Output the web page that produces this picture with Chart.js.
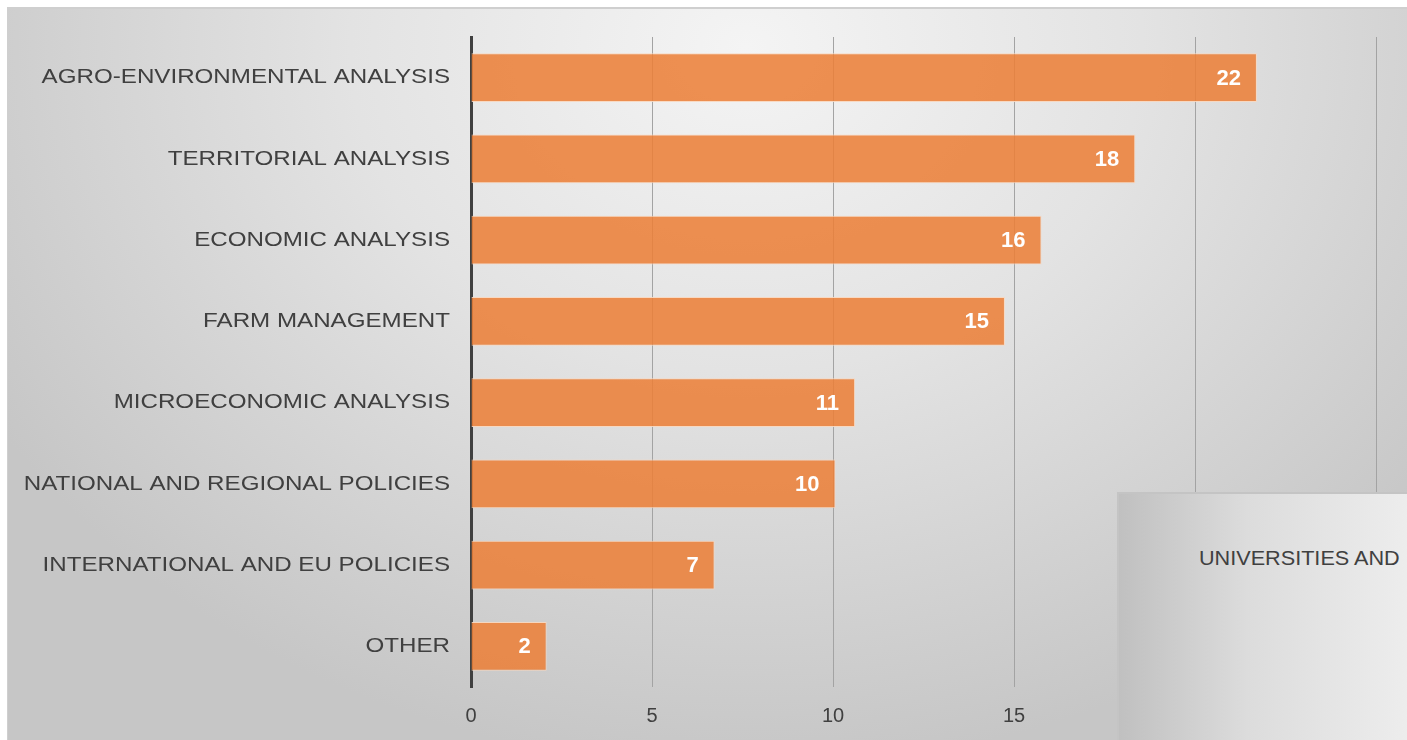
<!DOCTYPE html>
<html>
<head>
<meta charset="utf-8">
<script src="https://cdn.jsdelivr.net/npm/chart.js@4"></script>
<style>
  html, body { margin: 0; padding: 0; background: #ffffff; width: 1407px; height: 740px; overflow: hidden; }
  #frame {
    position: absolute; left: 7px; top: 7px; width: 1420px; height: 760px;
    border-top: 2px solid #cfcfcf; border-left: 1px solid #cfcfcf;
    background: radial-gradient(ellipse 62% 95% at 52% 5%, #f4f4f4 0%, #e3e3e3 45%, #c6c6c6 100%);
  }
  #wrap { position: absolute; left: 0; top: 0; width: 1399px; height: 731px; }
  #box {
    position: absolute; left: 1117px; top: 492px; width: 320px; height: 280px;
    border-top: 2px solid #c4c4c4; border-left: 2px solid #c4c4c4;
    background: linear-gradient(to right, #c0c0c0 0%, #dcdcdc 40%, #f0f0f0 100%);
    font-family: "Liberation Sans", Arial, sans-serif; font-size: 21px; color: #404040;
    white-space: nowrap; overflow: hidden;
  }
  #box span { position: absolute; left: 80px; top: 52px; transform: scaleX(1.03); transform-origin: left center; }
</style>
</head>
<body>
<div id="frame">
  <div id="wrap"><canvas id="c"></canvas></div>
</div>
<div id="box"><span>UNIVERSITIES AND</span></div>
<script>
const categories = [
  "AGRO-ENVIRONMENTAL ANALYSIS",
  "TERRITORIAL ANALYSIS",
  "ECONOMIC ANALYSIS",
  "FARM MANAGEMENT",
  "MICROECONOMIC ANALYSIS",
  "NATIONAL AND REGIONAL POLICIES",
  "INTERNATIONAL AND EU POLICIES",
  "OTHER"
];
const barValues = [21.71, 18.35, 15.76, 14.75, 10.61, 10.07, 6.73, 2.09];
const valueLabels = ["22", "18", "16", "15", "11", "10", "7", "2"];
const xTicks = [0, 5, 10, 15, 20, 25];

const FONT = '"Liberation Sans", Arial, sans-serif';

const labelPlugin = {
  id: 'labels',
  afterDatasetsDraw(chart) {
    const ctx = chart.ctx;
    const meta = chart.getDatasetMeta(0);
    const yScale = chart.scales.y;
    ctx.save();
    // data labels
    ctx.font = 'bold 22px ' + FONT;
    ctx.fillStyle = '#ffffff';
    ctx.textAlign = 'right';
    ctx.textBaseline = 'middle';
    meta.data.forEach((bar, i) => {
      ctx.fillText(valueLabels[i], bar.x - 16, bar.y + 1);
    });
    // category labels (slightly wide lettering as in the reference)
    ctx.font = '21px ' + FONT;
    ctx.fillStyle = '#404040';
    categories.forEach((lab, i) => {
      const y = yScale.getPixelForTick(i);
      ctx.save();
      ctx.translate(chart.chartArea.left - 21, y);
      ctx.scale(1.15, 1);
      ctx.fillText(lab, 0, 0);
      ctx.restore();
    });
    ctx.restore();
  }
};

new Chart(document.getElementById('c'), {
  type: 'bar',
  data: {
    labels: categories,
    datasets: [{
      data: barValues,
      backgroundColor: 'rgba(236,128,56,0.87)',
      borderColor: 'rgba(250,215,190,0.9)',
      borderWidth: 1,
      borderSkipped: 'left',
      categoryPercentage: 1.0,
      barPercentage: 0.6
    }]
  },
  options: {
    indexAxis: 'y',
    responsive: true,
    maintainAspectRatio: false,
    animation: false,
    events: [],
    layout: { padding: { top: 28, right: 31, bottom: 0, left: 0 } },
    plugins: { legend: { display: false }, tooltip: { enabled: false } },
    scales: {
      x: {
        min: 0, max: 25,
        afterBuildTicks(scale) { scale.ticks = xTicks.map(v => ({ value: v })); },
        afterFit(scale) { scale.height = 53; },
        grid: {
          color: ctx => (ctx.tick && ctx.tick.value === 0) ? 'rgba(0,0,0,0)' : '#a3a3a3',
          lineWidth: 1,
          drawTicks: false
        },
        border: { display: false },
        ticks: {
          padding: 17,
          color: '#404040',
          font: { family: FONT, size: 20 }
        }
      },
      y: {
        afterFit(scale) { scale.width = 463; },
        grid: { display: false, drawTicks: false },
        border: { display: true, color: '#404040', width: 3 },
        ticks: { display: false }
      }
    }
  },
  plugins: [labelPlugin]
});
</script>
</body>
</html>
